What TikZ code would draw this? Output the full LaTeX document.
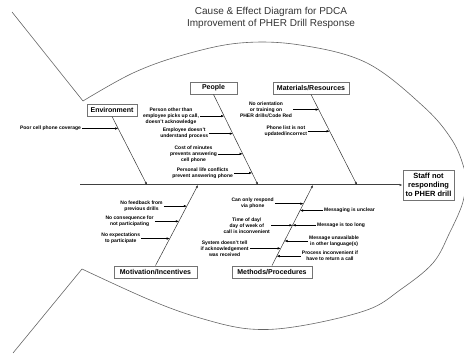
\documentclass[tikz,border=0pt]{standalone}
\usepackage{fontspec}
\setmainfont{Liberation Sans}
\usetikzlibrary{arrows.meta,positioning,calc}

\begin{document}
\begin{tikzpicture}[
  x=1pt,y=-1pt,
  font=\fontsize{5}{6}\selectfont\bfseries,
  every node/.style={align=center},
  cat/.style={draw=black!55,line width=0.9pt,fill=white,inner sep=1pt,
    minimum height=12pt,font=\fontsize{7}{8}\selectfont\bfseries},
  effect/.style={draw=black!55,line width=0.9pt,fill=white,minimum width=51pt,
    minimum height=30pt,inner sep=1pt,font=\fontsize{7.5}{9}\selectfont\bfseries},
  cause/.style={inner sep=1pt},
  outline/.style={black!60,line width=0.6pt},
  bone/.style={-{Latex[length=3pt,width=2.4pt]},black!80,line width=0.5pt},
  spine/.style={-{Latex[length=3pt,width=2.4pt]},black!75,line width=1pt},
  e/.style={-{Latex[length=3pt,width=2.4pt]},black,line width=0.45pt}]

\useasboundingbox (0,0) rectangle (464,355);

% --- title ---
\node[font=\normalfont\fontsize{10}{11.5}\selectfont,text=black!80] (title) at (271,18)
  {Cause \& Effect Diagram for PDCA\\Improvement of PHER Drill Response};

% --- fish outline ---
\draw[outline] (12,12) -- (83,101);
\draw[outline] plot[smooth,tension=0.6] coordinates {(83,101) (133,73) (183,55)
  (240,43) (300,45) (367,63) (424,107) (452,140) (464,168) (466,185)};
\draw[outline] plot[smooth,tension=0.6] coordinates {(82,269) (150,300) (200,318)
  (250,329) (300,326) (367,310) (400,290) (433,263) (450,232) (462,205) (466,185)};
\draw[outline] (82,269) -- (13,353);

% --- spine and effect ---
\coordinate (tail) at (80,185);
\node[effect] (eff) at (428.5,185) {Staff not\\responding\\to PHER drill};
\draw[spine] (tail) -- (eff);

\coordinate (sEnv) at (147,185);
\coordinate (sPeo) at (258,185);
\coordinate (sMat) at (357,185);
\coordinate (sMot) at (198,185);
\coordinate (sMet) at (313,185);

% --- categories ---
\node[cat,minimum width=50pt] (env) at (112,110) {Environment};
\node[cat,minimum width=47pt] (peo) at (213.5,88) {People};
\node[cat,minimum width=76pt] (mat) at (311,88) {Materials/Resources};
\node[cat,minimum width=83pt] (mot) at (155.5,272) {Motivation/Incentives};
\node[cat,minimum width=80pt] (met) at (272,272) {Methods/Procedures};

% bones
\draw[bone] (env.south) -- (sEnv) coordinate[pos=0.176] (be1);
\draw[bone] (peo.south) -- (sPeo) coordinate[pos=0.239] (bp1) coordinate[pos=0.433] (bp2)
  coordinate[pos=0.656] (bp3) coordinate[pos=0.867] (bp4);
\draw[bone] (mat.south) -- (sMat) coordinate[pos=0.167] (bm1) coordinate[pos=0.406] (bm2);
\draw[bone] (mot.north) -- (sMot) coordinate[pos=0.738] (bv1) coordinate[pos=0.549] (bv2)
  coordinate[pos=0.335] (bv3);
\draw[bone] (met.north) -- (sMet) coordinate[pos=0.768] (bd1) coordinate[pos=0.683] (bd2)
  coordinate[pos=0.5] (bd3) coordinate[pos=0.305] (bd5) coordinate[pos=0.213] (bd6)
  coordinate[pos=0.116] (bd7);

% causes, environment
\node[cause,left=36pt of be1] (e1) {Poor cell phone coverage};
\draw[e] (e1) -- (be1);
% causes, people
\node[cause,left=24pt of bp1] (p1) {Person other than\\employee picks up call,\\doesn't acknowledge};
\node[cause,left=23.5pt of bp2] (p2) {Employee doesn't\\understand process};
\node[cause,left=24.5pt of bp3] (p3) {Cost of minutes\\prevents answering\\cell phone};
\node[cause,left=18pt of bp4] (p4) {Personal life conflicts\\prevent answering phone};
\draw[e] (p1) -- (bp1);
\draw[e] (p2) -- (bp2);
\draw[e] (p3) -- (bp3);
\draw[e] (p4) -- (bp4);
% causes, materials
\node[cause,left=25.5pt of bm1] (m1) {No orientation\\or training on\\PHER drills/Code Red};
\node[cause,left=21.5pt of bm2] (m2) {Phone list is not\\updated/incorrect};
\draw[e] (m1) -- (bm1);
\draw[e] (m2) -- (bm2);
% causes, motivation
\node[cause,left=23pt of bv1] (v1) {No feedback from\\previous drills};
\node[cause,left=24pt of bv2] (v2) {No consequence for\\not participating};
\node[cause,left=28.5pt of bv3] (v3) {No expectations\\to participate};
\draw[e] (v1) -- (bv1);
\draw[e] (v2) -- (bv2);
\draw[e] (v3) -- (bv3);
% causes, methods
\node[cause,left=28.5pt of bd1] (d1) {Can only respond\\via phone};
\node[cause,right=23pt of bd2] (d2) {Messaging is unclear};
\node[cause,left=21.5pt of bd3] (d3) {Time of day/\\day of week of\\call is inconvenient};
\node[cause,right=23.5pt of bd3] (d4) {Message is too long};
\node[cause,right=23.5pt of bd5] (d5) {Message unavailable\\in other language(s)};
\node[cause,left=31pt of bd6] (d6) {System doesn't tell\\if acknowledgement\\was received};
\node[cause,right=24pt of bd7] (d7) {Process inconvenient if\\have to return a call};
\draw[e] (d1) -- (bd1);
\draw[e] (d2) -- (bd2);
\draw[e] (d3) -- (bd3);
\draw[e] (d4) -- (bd3);
\draw[e] (d5) -- (bd5);
\draw[e] (d6) -- (bd6);
\draw[e] (d7) -- (bd7);
\end{tikzpicture}
\end{document}
